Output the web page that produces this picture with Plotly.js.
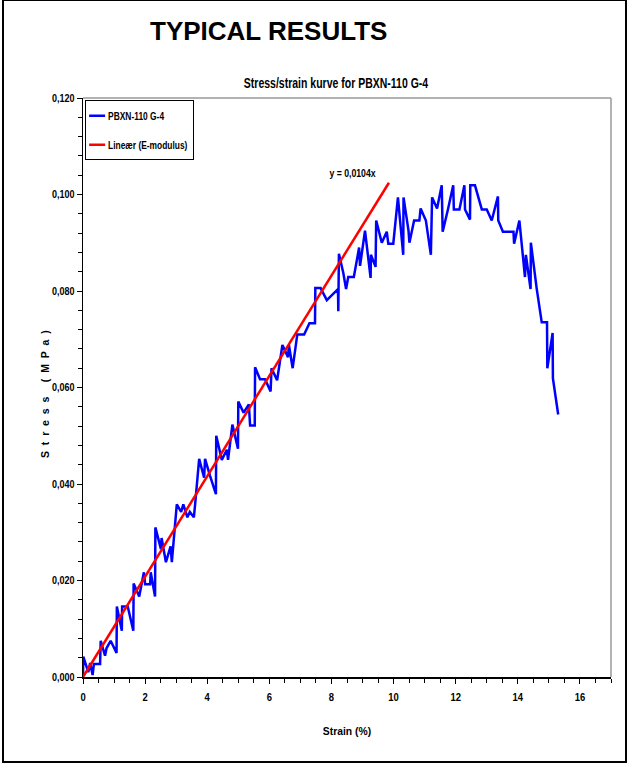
<!DOCTYPE html>
<html>
<head>
<meta charset="utf-8">
<script src="https://cdn.plot.ly/plotly-3.0.1.min.js"></script>
<style>
  html, body { margin: 0; padding: 0; background: #fff; }
  #chart { width: 629px; height: 765px; }
</style>
</head>
<body>
<div id="chart"></div>
<script>
// Measured tensile curve: strain (%) vs stress (MPa)
const strain = [
  0.00, 0.01, 0.17, 0.23, 0.31, 0.35, 0.55, 0.57, 0.71, 0.76,
  0.89, 1.08, 1.09, 1.25, 1.26, 1.44, 1.62, 1.63, 1.81, 1.96,
  2.00, 2.16, 2.18, 2.32, 2.33, 2.51, 2.53, 2.67, 2.82, 2.86,
  3.02, 3.16, 3.23, 3.36, 3.44, 3.57, 3.61, 3.74, 3.90, 3.93,
  4.09, 4.28, 4.29, 4.47, 4.63, 4.67, 4.81, 4.99, 5.00, 5.17,
  5.34, 5.38, 5.53, 5.54, 5.70, 5.86, 6.04, 6.07, 6.25, 6.42,
  6.60, 6.63, 6.75, 6.90, 7.12, 7.29, 7.47, 7.48, 7.65, 7.85,
  8.21, 8.22, 8.24, 8.38, 8.47, 8.54, 8.72, 8.89, 8.92, 9.08,
  9.26, 9.27, 9.42, 9.44, 9.62, 9.78, 9.83, 9.99, 10.14, 10.31,
  10.32, 10.48, 10.51, 10.66, 10.83, 10.87, 11.04, 11.20, 11.24, 11.40,
  11.55, 11.58, 11.75, 11.92, 11.94, 12.12, 12.28, 12.30, 12.46, 12.47,
  12.62, 12.84, 13.00, 13.16, 13.36, 13.37, 13.52, 13.86, 13.88, 14.05,
  14.23, 14.26, 14.41, 14.42, 14.61, 14.77, 14.94, 14.95, 15.12, 15.13,
  15.30
];
const stress = [
  0.0002, 0.0042, 0.0010, 0.0029, 0.0004, 0.0027, 0.0027, 0.0075, 0.0044, 0.0060,
  0.0075, 0.0050, 0.0146, 0.0096, 0.0146, 0.0146, 0.0096, 0.0194, 0.0167, 0.0217,
  0.0192, 0.0192, 0.0217, 0.0167, 0.0310, 0.0265, 0.0288, 0.0238, 0.0271, 0.0238,
  0.0358, 0.0342, 0.0358, 0.0331, 0.0342, 0.0331, 0.0358, 0.0452, 0.0413, 0.0452,
  0.0417, 0.0379, 0.0500, 0.0450, 0.0471, 0.0450, 0.0523, 0.0473, 0.0571, 0.0548,
  0.0565, 0.0521, 0.0521, 0.0642, 0.0617, 0.0617, 0.0592, 0.0640, 0.0615, 0.0688,
  0.0663, 0.0688, 0.0640, 0.0710, 0.0710, 0.0733, 0.0733, 0.0806, 0.0806, 0.0781,
  0.0804, 0.0758, 0.0877, 0.0838, 0.0804, 0.0829, 0.0829, 0.0890, 0.0852, 0.0925,
  0.0827, 0.0875, 0.0850, 0.0946, 0.0900, 0.0923, 0.0898, 0.0898, 0.0994, 0.0875,
  0.0994, 0.0925, 0.0900, 0.0946, 0.0946, 0.0971, 0.0946, 0.0875, 0.0994, 0.0971,
  0.1019, 0.0923, 0.0969, 0.1019, 0.0969, 0.0969, 0.1019, 0.0969, 0.0948, 0.1019,
  0.1019, 0.0969, 0.0969, 0.0946, 0.0996, 0.0946, 0.0923, 0.0923, 0.0898, 0.0946,
  0.0829, 0.0875, 0.0804, 0.0900, 0.0804, 0.0735, 0.0735, 0.0640, 0.0713, 0.0619,
  0.0544
];

// Linear fit through the origin (E-modulus)
const modulusSlope = 0.0104;
const fitStrain = [0, 9.85];
const fitStress = fitStrain.map(s => modulusSlope * s);

const seriesNames = ['PBXN-110 G-4', 'Lineær (E-modulus)'];
const xTickValues = [0, 2, 4, 6, 8, 10, 12, 14, 16];
const yTickValues = [0, 0.02, 0.04, 0.06, 0.08, 0.10, 0.12];

const sans = 'Liberation Sans, Arial, sans-serif';
const nb = '\u00a0';
const stressLabel = ['S', 't', 'r', 'e', 's', 's', nb, '(', 'M', 'P', 'a', ')'].join(nb + nb);

const traces = [
  {
    x: strain, y: stress, type: 'scatter', mode: 'lines',
    name: seriesNames[0], legendgroup: 'measured',
    line: { color: '#0000ff', width: 2.5 }
  },
  {
    x: fitStrain, y: fitStress, type: 'scatter', mode: 'lines',
    name: seriesNames[1], legendgroup: 'fit',
    line: { color: '#ff0000', width: 2.5 }
  }
];

const layout = {
  width: 629, height: 765,
  margin: { l: 83, r: 18, t: 98, b: 88 },
  paper_bgcolor: '#ffffff', plot_bgcolor: '#ffffff',
  separators: ', ',
  font: { family: sans, size: 10, color: '#000', weight: 'bold' },
  showlegend: true,
  legend: {
    x: 0.004, y: 0.996, xanchor: 'left', yanchor: 'top',
    bgcolor: '#ffffff', bordercolor: '#000', borderwidth: 1,
    font: { family: sans, size: 10.5, color: '#000', weight: 'bold' },
    tracegroupgap: 10
  },
  title: {
    text: 'Stress/strain kurve for PBXN-110 G-4',
    font: { family: sans, size: 15, color: '#000', weight: 'bold' },
    x: 336 / 629, xref: 'container', xanchor: 'center',
    y: 1 - 83 / 765, yanchor: 'middle'
  },
  xaxis: {
    range: [0, 17], autorange: false,
    tickvals: xTickValues, ticktext: xTickValues.map(String),
    ticks: 'outside', ticklen: 5, tickwidth: 1, tickcolor: '#000',
    minor: { dtick: 0.5, tick0: 0, ticks: 'outside', ticklen: 4, tickcolor: '#000', showgrid: false },
    showline: true, linecolor: '#000', linewidth: 1.5,
    showgrid: false, zeroline: false,
    tickfont: { family: sans, size: 10.5, color: '#000', weight: 'bold' },
    ticklabelstandoff: 5,
    title: { text: 'Strain (%)', font: { family: sans, size: 11.5, color: '#000', weight: 'bold' }, standoff: 25 }
  },
  yaxis: {
    range: [0, 0.12], autorange: false,
    tickvals: yTickValues, tickformat: '.3f',
    ticks: 'outside', ticklen: 5, tickwidth: 1, tickcolor: '#000',
    minor: { dtick: 0.004, tick0: 0, ticks: 'outside', ticklen: 4, tickcolor: '#000', showgrid: false },
    showline: true, linecolor: '#000', linewidth: 1.5,
    showgrid: false, zeroline: false,
    tickfont: { family: sans, size: 10, color: '#000', weight: 'bold' }
  },
  shapes: [
    // grey frame on top and right of the plot area
    { type: 'line', xref: 'paper', yref: 'paper', x0: 0, x1: 1, y0: 1, y1: 1, line: { color: '#999', width: 1.5 } },
    { type: 'line', xref: 'paper', yref: 'paper', x0: 1, x1: 1, y0: 0, y1: 1, line: { color: '#999', width: 1.5 } },
    // page border
    { type: 'rect', xref: 'paper', yref: 'paper',
      x0: (3 - 83) / 528, x1: (626 - 83) / 528,
      y0: (677 - 762) / 579, y1: (677 - 0) / 579,
      line: { color: '#000', width: 2 }, fillcolor: 'rgba(0,0,0,0)' }
  ],
  annotations: [
    { text: 'TYPICAL RESULTS', xref: 'paper', yref: 'paper',
      x: (268 - 83) / 528, y: (677 - 31) / 579, xanchor: 'center', yanchor: 'middle',
      showarrow: false,
      font: { family: sans, size: 26, color: '#000', weight: 'bold' } },
    { text: 'y = 0,0104x', xref: 'x', yref: 'y', x: 8.7, y: 0.1044,
      xanchor: 'center', yanchor: 'middle', showarrow: false,
      font: { family: sans, size: 10, color: '#000', weight: 'bold' } },
    { text: stressLabel, xref: 'paper', yref: 'paper',
      x: (45 - 83) / 528, y: (677 - 394) / 579, xanchor: 'center', yanchor: 'middle',
      textangle: -90, showarrow: false,
      font: { family: sans, size: 10.5, color: '#000', weight: 'bold' } }
  ]
};

// Narrow the lettering horizontally around each text's own anchor point
function condenseNodes(nodes, k) {
  nodes.forEach(t => {
    const x = parseFloat(t.getAttribute('x')) || 0;
    const y = parseFloat(t.getAttribute('y')) || 0;
    const tr = t.getAttribute('transform') || '';
    t.setAttribute('transform',
      tr + ' translate(' + x + ',' + y + ') scale(' + k + ',1) translate(' + (-x) + ',' + (-y) + ')');
  });
}
function condense(root, selector, k) {
  condenseNodes(Array.from(root.querySelectorAll(selector)), k);
}

const gd = document.getElementById('chart');
Plotly.newPlot(gd, traces, layout, { displayModeBar: false, staticPlot: true }).then(() => {
  // compact legend: short line samples, text closer, narrower box
  gd.querySelectorAll('.legend path.js-line').forEach(p => p.setAttribute('d', 'M3,0h16'));
  gd.querySelectorAll('.legend .legendtext').forEach(t => t.setAttribute('x', 22));
  condense(gd, '.legend .legendtext', 0.8);
  gd.querySelectorAll('.legend rect.bg').forEach(r => r.setAttribute('width', 108));

  condense(gd, '.gtitle', 0.7);
  condense(gd, '.xtick text', 0.9);
  condense(gd, '.ytick text', 0.9);
  condense(gd, '.xtitle', 0.9);
  const notes = Array.from(gd.querySelectorAll('.annotation-text'));
  if (notes[1]) condenseNodes([notes[1]], 0.87);
});
</script>
</body>
</html>
